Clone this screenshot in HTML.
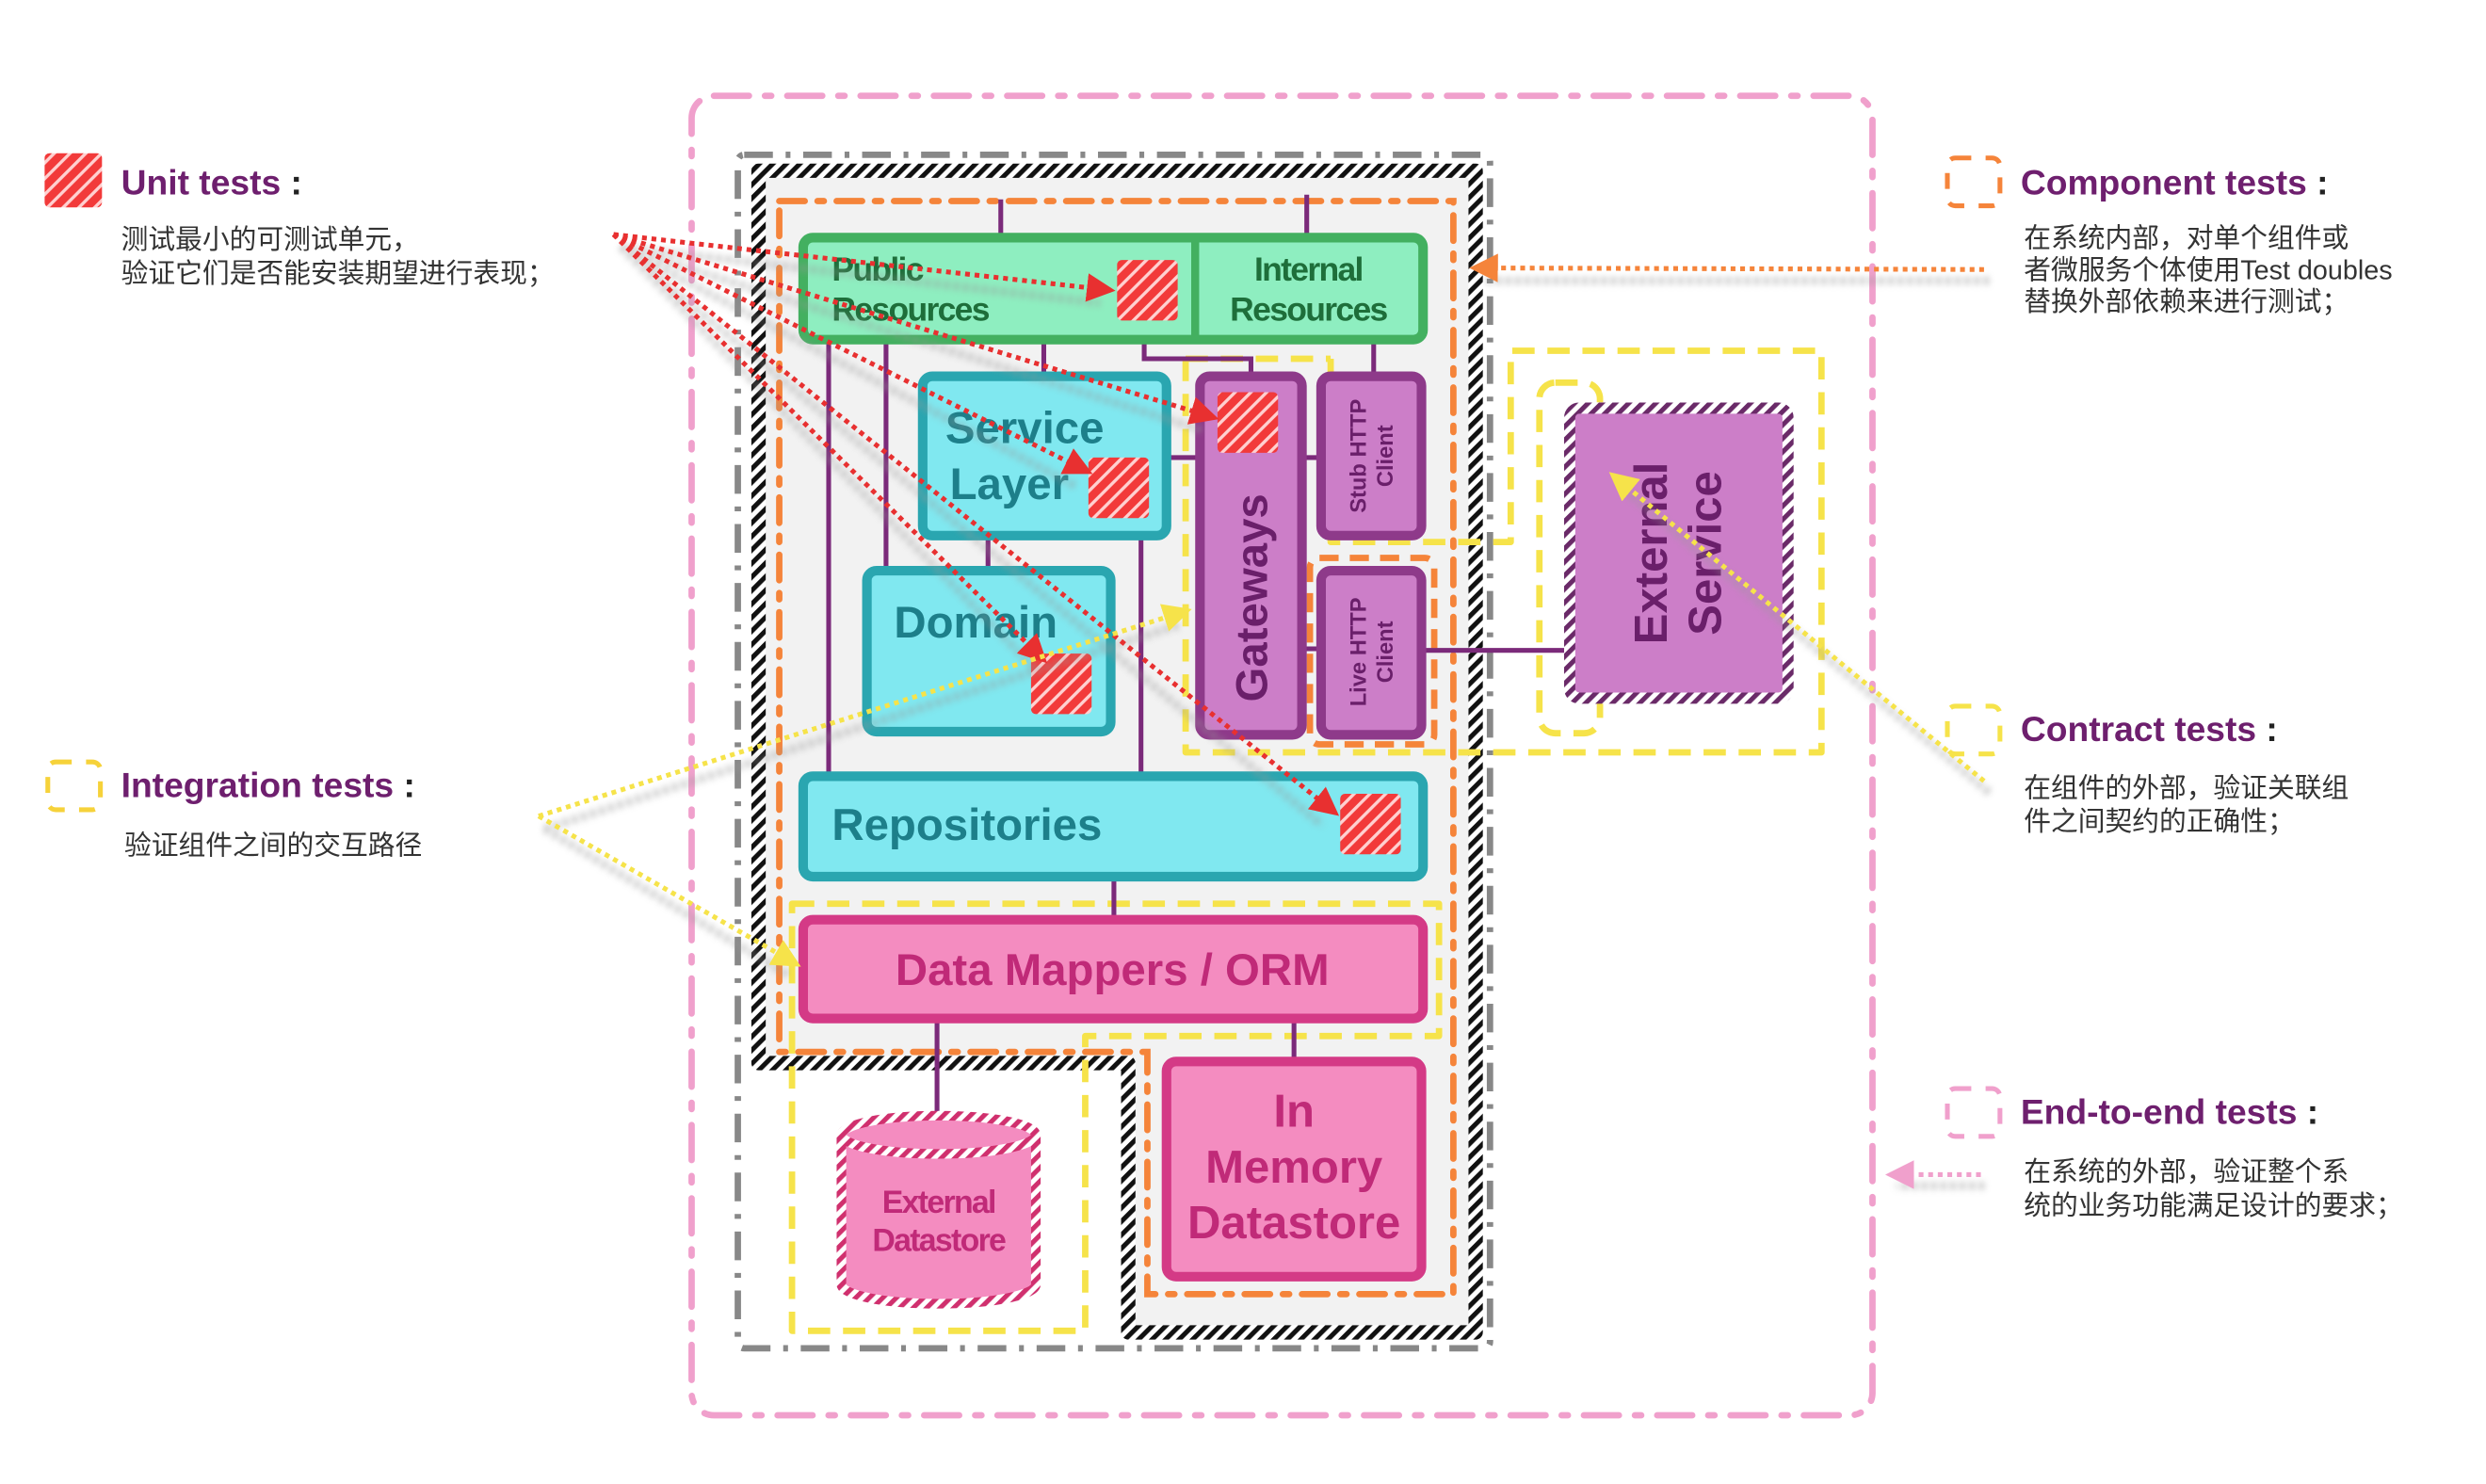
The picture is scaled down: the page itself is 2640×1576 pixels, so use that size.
<!DOCTYPE html>
<html><head><meta charset="utf-8"><style>
html,body{margin:0;padding:0;background:#fff;}
svg{display:block;}
text{font-family:"Liberation Sans","Noto Sans CJK SC",sans-serif;}
</style></head><body>
<svg width="2640" height="1576" viewBox="0 0 1560 931" xmlns="http://www.w3.org/2000/svg">
<defs>
<pattern id="hb" width="6" height="6" patternUnits="userSpaceOnUse" patternTransform="rotate(45)">
<rect width="6" height="6" fill="#fff"/><rect width="3" height="6" fill="#111"/></pattern>
<pattern id="hr" width="7" height="7" patternUnits="userSpaceOnUse" patternTransform="rotate(45)">
<rect width="7" height="7" fill="#f23a3a"/><rect width="2" height="7" fill="#ffd0d0"/></pattern>
<pattern id="hp" width="6" height="6" patternUnits="userSpaceOnUse" patternTransform="rotate(45)">
<rect width="6" height="6" fill="#fff"/><rect width="3" height="6" fill="#6a2a68"/></pattern>
<pattern id="hk" width="6" height="6" patternUnits="userSpaceOnUse" patternTransform="rotate(45)">
<rect width="6" height="6" fill="#fff"/><rect width="3" height="6" fill="#d0306e"/></pattern>
<marker id="ar" markerWidth="6" markerHeight="6" refX="5" refY="3" orient="auto" markerUnits="strokeWidth"><path d="M0,0 L6,3 L0,6z" fill="#e83030"/></marker>
<marker id="ay" markerWidth="6" markerHeight="6" refX="5" refY="3" orient="auto" markerUnits="strokeWidth"><path d="M0,0 L6,3 L0,6z" fill="#f6e34a"/></marker>
<marker id="ao" markerWidth="6" markerHeight="6" refX="5" refY="3" orient="auto" markerUnits="strokeWidth"><path d="M0,0 L6,3 L0,6z" fill="#f5843a"/></marker>
<marker id="ap" markerWidth="6" markerHeight="6" refX="5" refY="3" orient="auto" markerUnits="strokeWidth"><path d="M0,0 L6,3 L0,6z" fill="#f0a0cc"/></marker>
<filter id="bl"><feGaussianBlur stdDeviation="2"/></filter>
</defs>

<!-- outer e2e -->
<rect x="434" y="60" width="741" height="828" rx="14" fill="none" stroke="#f0a0cc" stroke-width="4" stroke-dasharray="22 10 4 10" stroke-linecap="round"/>
<!-- gray -->
<rect x="463" y="97" width="472" height="749" rx="4" fill="none" stroke="#888" stroke-width="4" stroke-dasharray="18 8 3 8"/>
<!-- hatched boundary -->
<path d="M476,107 H926 V836 H708 V667 H476 Z" fill="#f2f2f2" stroke="url(#hb)" stroke-width="9" stroke-linejoin="round"/>

<!-- orange component -->
<path d="M489,126 H912 V812 H720 V660 H489 Z" fill="none" stroke="#f5843a" stroke-width="4" stroke-dasharray="16 8 4 8" stroke-linecap="round"/>
<rect x="822" y="350" width="78" height="117" rx="6" fill="none" stroke="#f5843a" stroke-width="4" stroke-dasharray="12 7"/>

<!-- yellow integration -->
<path d="M744,225 H835 M744,225 V472 H1143 V220 H948 V340 H835 V225" fill="none" stroke="#f6e34a" stroke-width="4" stroke-dasharray="14 8" stroke-linejoin="round"/>
<rect x="966" y="240" width="38" height="220" rx="10" fill="none" stroke="#f6e34a" stroke-width="4" stroke-dasharray="14 8"/>
<path d="M497,567 H903 V650 H681 V835 H497 Z" fill="none" stroke="#f6e34a" stroke-width="4" stroke-dasharray="14 8" stroke-linejoin="round"/>

<!-- connectors -->
<g stroke="#7b2a7a" stroke-width="3" fill="none">
<path d="M628,125V148 M820,122V148 M520,213V486 M556,213V357 M655,213V235 M718,213V225H785V235 M620,337V357 M716,337V486 M733,287H752 M862,213V235 M818,287H828 M818,407H828 M893,408H982 M699,550V576 M588,640V700 M812,640V665"/>
</g>

<!-- Resources -->
<rect x="504" y="149" width="389" height="64" rx="6" fill="#8eeec0" stroke="#43b060" stroke-width="6"/>
<line x1="750" y1="149" x2="750" y2="213" stroke="#43b060" stroke-width="5"/>
<g font-weight="bold" font-size="21" fill="#1e6e3a" letter-spacing="-1">
<text x="522" y="176">Public</text><text x="522" y="201">Resources</text>
<text x="821" y="176" text-anchor="middle">Internal</text><text x="821" y="201" text-anchor="middle">Resources</text>
</g>
<!-- Service layer -->
<rect x="579" y="236" width="153" height="100" rx="6" fill="#80e8f0" stroke="#2aa6b0" stroke-width="6"/>
<text x="643" y="278" font-size="28" font-weight="bold" fill="#1d7f8a" text-anchor="middle">Service</text>
<text x="596" y="313" font-size="28" font-weight="bold" fill="#1d7f8a">Layer</text>
<!-- Domain -->
<rect x="544" y="358" width="153" height="101" rx="6" fill="#80e8f0" stroke="#2aa6b0" stroke-width="6"/>
<text x="561" y="400" font-size="28" font-weight="bold" fill="#1d7f8a">Domain</text>
<!-- Repositories -->
<rect x="504" y="487" width="389" height="63" rx="6" fill="#80e8f0" stroke="#2aa6b0" stroke-width="6"/>
<text x="522" y="527" font-size="28" font-weight="bold" fill="#1d7f8a">Repositories</text>
<!-- Gateways -->
<rect x="753" y="236" width="64" height="225" rx="6" fill="#cc7ec8" stroke="#8e3a8a" stroke-width="6"/>
<text transform="translate(795,375) rotate(-90)" font-size="28" font-weight="bold" fill="#6a1f6a" text-anchor="middle">Gateways</text>
<rect x="829" y="236" width="63" height="100" rx="6" fill="#cc7ec8" stroke="#8e3a8a" stroke-width="6"/>
<text transform="translate(857,286) rotate(-90)" font-size="14" font-weight="bold" fill="#6a1f6a" text-anchor="middle">Stub HTTP</text>
<text transform="translate(874,286) rotate(-90)" font-size="14" font-weight="bold" fill="#6a1f6a" text-anchor="middle">Client</text>
<rect x="829" y="358" width="63" height="103" rx="6" fill="#cc7ec8" stroke="#8e3a8a" stroke-width="6"/>
<text transform="translate(857,409) rotate(-90)" font-size="14" font-weight="bold" fill="#6a1f6a" text-anchor="middle">Live HTTP</text>
<text transform="translate(874,409) rotate(-90)" font-size="14" font-weight="bold" fill="#6a1f6a" text-anchor="middle">Client</text>
<!-- External Service -->
<rect x="985" y="256" width="137" height="182" rx="6" fill="#cc7ec8" stroke="url(#hp)" stroke-width="7"/>
<text transform="translate(1046,347) rotate(-90)" font-size="29" font-weight="bold" fill="#6a1f6a" text-anchor="middle">External</text>
<text transform="translate(1080,347) rotate(-90)" font-size="29" font-weight="bold" fill="#6a1f6a" text-anchor="middle">Service</text>
<!-- Data Mappers -->
<rect x="504" y="577" width="389" height="62" rx="6" fill="#f48cc0" stroke="#d43a86" stroke-width="6"/>
<text x="698" y="618" font-size="28" font-weight="bold" fill="#c02a78" text-anchor="middle">Data Mappers / ORM</text>
<!-- In memory -->
<rect x="732" y="666" width="160" height="135" rx="6" fill="#f48cc0" stroke="#d43a86" stroke-width="6"/>
<g font-size="29" font-weight="bold" fill="#c02a78" text-anchor="middle">
<text x="812" y="707">In</text><text x="812" y="742">Memory</text><text x="812" y="777">Datastore</text></g>
<!-- External datastore -->
<path d="M528,712 V806 A61,12 0 0 0 650,806 V712" fill="#f48cc0" stroke="url(#hk)" stroke-width="6"/>
<ellipse cx="589" cy="712" rx="61" ry="12" fill="#f48cc0" stroke="url(#hk)" stroke-width="6"/>
<g font-size="20" font-weight="bold" fill="#c02a78" text-anchor="middle" letter-spacing="-1">
<text x="589" y="761">External</text><text x="589" y="785">Datastore</text></g>

<!-- unit squares -->
<g fill="url(#hr)">
<rect x="701" y="163" width="38" height="38" rx="3"/>
<rect x="764" y="246" width="38" height="38" rx="3"/>
<rect x="683" y="287" width="38" height="38" rx="3"/>
<rect x="647" y="410" width="38" height="38" rx="3"/>
<rect x="841" y="498" width="38" height="38" rx="3"/>
<rect x="28" y="96" width="36" height="34" rx="3"/>
</g>

<!-- shadows -->
<g stroke="#999" stroke-width="5" fill="none" filter="url(#bl)" opacity="0.6" stroke-dasharray="3 3">
<path d="M390,155 L690,190 M390,155 L755,270 M390,155 L675,305 M390,155 L650,420 M390,155 L830,518"/>
<path d="M342,520 L740,392 M342,520 L495,612 M1248,497 L1018,306 M1248,176 L930,176 M1245,744 L1190,744"/>
</g>
<!-- arrows -->
<g stroke="#e83030" stroke-width="3" fill="none" stroke-dasharray="3 3">
<path d="M385,147 L697,182" marker-end="url(#ar)"/>
<path d="M385,147 L762,262" marker-end="url(#ar)"/>
<path d="M385,147 L683,296" marker-end="url(#ar)"/>
<path d="M385,147 L655,414" marker-end="url(#ar)"/>
<path d="M385,147 L838,510" marker-end="url(#ar)"/>
</g>
<g stroke="#f6e34a" stroke-width="3" fill="none" stroke-dasharray="3 3">
<path d="M338,512 L745,383" marker-end="url(#ay)"/>
<path d="M338,512 L500,605" marker-end="url(#ay)"/>
<path d="M1245,490 L1012,298" marker-end="url(#ay)"/>
</g>
<path d="M1245,169 L925,168" stroke="#f5843a" stroke-width="3" fill="none" stroke-dasharray="3 3" marker-end="url(#ao)"/>
<path d="M1243,737 L1186,737" stroke="#f0a0cc" stroke-width="3" fill="none" stroke-dasharray="3 3" marker-end="url(#ap)"/>

<!-- legend icons -->
<rect x="30" y="478" width="33" height="30" rx="5" fill="none" stroke="#f6d23a" stroke-width="3" stroke-dasharray="10 9"/>
<rect x="1222" y="99" width="33" height="30" rx="5" fill="none" stroke="#f5843a" stroke-width="3" stroke-dasharray="10 9"/>
<rect x="1222" y="443" width="33" height="30" rx="5" fill="none" stroke="#f6e34a" stroke-width="3" stroke-dasharray="10 9"/>
<rect x="1222" y="683" width="33" height="30" rx="5" fill="none" stroke="#f0a0cc" stroke-width="3" stroke-dasharray="10 9"/>

<!-- legend text -->
<g font-size="22" font-weight="bold" fill="#6e1f6e">
<text x="76" y="122">Unit tests <tspan fill="#222">:</tspan></text>
<text x="76" y="500">Integration tests <tspan fill="#222">:</tspan></text>
<text x="1268" y="122">Component tests <tspan fill="#222">:</tspan></text>
<text x="1268" y="465">Contract tests <tspan fill="#222">:</tspan></text>
<text x="1268" y="705">End-to-end tests <tspan fill="#222">:</tspan></text>
</g>
<g font-size="17" fill="#333">
<text x="76" y="156">测试最小的可测试单元，</text>
<text x="76" y="177">验证它们是否能安装期望进行表现；</text>
<text x="78" y="536">验证组件之间的交互路径</text>
<text x="1270" y="155">在系统内部，对单个组件或</text>
<text x="1270" y="175">者微服务个体使用Test doubles</text>
<text x="1270" y="195">替换外部依赖来进行测试；</text>
<text x="1270" y="500">在组件的外部，验证关联组</text>
<text x="1270" y="521">件之间契约的正确性；</text>
<text x="1270" y="741">在系统的外部，验证整个系</text>
<text x="1270" y="762">统的业务功能满足设计的要求；</text>
</g>
</svg>
</body></html>
